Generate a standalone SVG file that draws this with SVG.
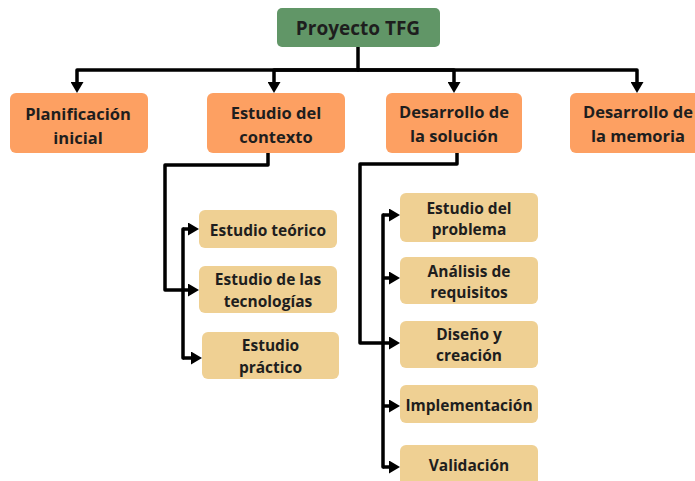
<svg xmlns="http://www.w3.org/2000/svg" width="695" height="481" viewBox="0 0 695 481">
<style>
.root rect{fill:#619667}
.main rect{fill:#fda062}
.sub rect{fill:#efd093}
text{font-family:"Open Sans","Noto Sans","Liberation Sans",sans-serif;font-weight:700;fill:#1e1e1e;text-anchor:middle;dominant-baseline:central}
.root text{font-size:19px}
.main text{font-size:16.5px}
.sub text{font-size:15.5px}
.conn path{fill:none;stroke:#000;stroke-width:3.5;stroke-linejoin:round;stroke-linecap:round}
.conn path.a{marker-end:url(#arr);stroke-linecap:butt}
</style>
<defs>
<marker id="arr" markerUnits="userSpaceOnUse" viewBox="0 0 11 13" markerWidth="11" markerHeight="13" refX="7" refY="6.5" orient="auto">
<path d="M0,0 L11,6.5 L0,13 z" fill="#000"/>
</marker>
</defs>
<g id="connectors" class="conn">
<path d="M358,47 V70"/>
<path class="a" d="M358,70 H77 V89"/>
<path class="a" d="M358,70 H274 V89"/>
<path class="a" d="M358,70 H454 V89"/>
<path class="a" d="M358,70 H637 V89"/>
<path d="M268,153 V165 H165 V290 H183"/>
<path d="M183,229 V358"/>
<path class="a" d="M183,229 H195"/>
<path class="a" d="M183,290 H195"/>
<path class="a" d="M183,358 H198"/>
<path d="M457,153 V164 H360 V343 H383"/>
<path d="M383,215 V467"/>
<path class="a" d="M383,215 H396"/>
<path class="a" d="M383,278 H396"/>
<path class="a" d="M383,343 H396"/>
<path class="a" d="M383,406 H396"/>
<path class="a" d="M383,467 H396"/>
</g>
<g id="n-root" class="root"><rect x="277" y="8" width="163" height="39" rx="5"/><text x="358" y="28">Proyecto TFG</text></g>
<g id="n-plan" class="main"><rect x="10" y="93" width="138" height="60" rx="6"/><text x="78" y="113">Planificación</text><text x="78" y="137">inicial</text></g>
<g id="n-ctx" class="main"><rect x="207" y="93" width="138" height="60" rx="6"/><text x="276" y="112">Estudio del</text><text x="276" y="136">contexto</text></g>
<g id="n-sol" class="main"><rect x="386" y="93" width="136" height="60" rx="6"/><text x="454" y="111">Desarrollo de</text><text x="454" y="135">la solución</text></g>
<g id="n-mem" class="main"><rect x="570" y="93" width="140" height="60" rx="6"/><text x="638" y="111">Desarrollo de</text><text x="638" y="135">la memoria</text></g>
<g id="n-teo" class="sub"><rect x="199" y="210" width="138" height="38" rx="6"/><text x="268" y="229.5">Estudio teórico</text></g>
<g id="n-tec" class="sub"><rect x="199" y="266" width="138" height="47" rx="6"/><text x="268" y="279">Estudio de las</text><text x="268" y="301">tecnologías</text></g>
<g id="n-pra" class="sub"><rect x="202" y="332" width="137" height="47" rx="6"/><text x="270.5" y="345">Estudio</text><text x="270.5" y="367">práctico</text></g>
<g id="n-prob" class="sub"><rect x="400" y="193" width="138" height="49" rx="6"/><text x="469" y="208">Estudio del</text><text x="469" y="229">problema</text></g>
<g id="n-req" class="sub"><rect x="400" y="257" width="138" height="47" rx="6"/><text x="469" y="271">Análisis de</text><text x="469" y="292">requisitos</text></g>
<g id="n-dis" class="sub"><rect x="400" y="321" width="138" height="47" rx="6"/><text x="469" y="334">Diseño y</text><text x="469" y="355">creación</text></g>
<g id="n-imp" class="sub"><rect x="400" y="385" width="138" height="38" rx="6"/><text x="469" y="405">Implementación</text></g>
<g id="n-val" class="sub"><rect x="400" y="445" width="138" height="45" rx="6"/><text x="469" y="465">Validación</text></g>
</svg>
